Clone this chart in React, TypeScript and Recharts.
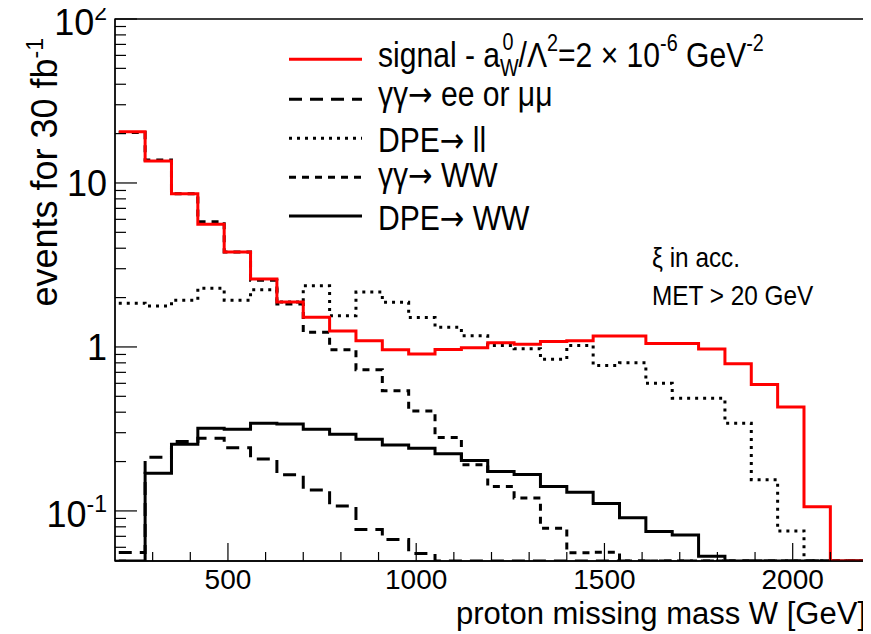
import React from "react";
import { LineChart, Line, XAxis, YAxis, ReferenceArea } from "recharts";

// lower edges of the 70 GeV bins
const binLow = [210, 280, 350, 420, 490, 560, 630, 700, 770, 840, 910, 980, 1050, 1120, 1190, 1260, 1330, 1400, 1470, 1540, 1610, 1680, 1750, 1820, 1890, 1960, 2030, 2100, 2170];
const X_MIN = 200;
const X_END = 2200;
const Y_MIN = 0.0495;
const Y_MAX = 100;

const signal = [20.5, 13.6, 8.6, 5.6, 3.8, 2.6, 1.88, 1.52, 1.25, 1.09, 0.96, 0.905, 0.965, 0.99, 1.06, 1.04, 1.08, 1.09, 1.165, 1.165, 1.05, 1.05, 0.97, 0.79, 0.59, 0.43, 0.106, 0, 0];
const ggLL = [0.0557, 0.2125, 0.265, 0.277, 0.243, 0.207, 0.166, 0.134, 0.107, 0.077, 0.067, 0.055, 0, 0, 0, 0, 0, 0, 0, 0, 0, 0, 0, 0, 0, 0, 0, 0, 0];
const dpeLL = [1.85, 1.78, 1.93, 2.28, 1.93, 2.23, 1.88, 2.36, 1.55, 2.16, 1.87, 1.51, 1.32, 1.17, 1.02, 0.975, 0.84, 1.02, 0.77, 0.8, 0.6, 0.487, 0.487, 0.343, 0.155, 0.0755, 0, 0, 0];
const ggWW = [20.3, 13.8, 8.6, 5.8, 3.8, 2.55, 1.83, 1.23, 0.96, 0.725, 0.54, 0.407, 0.28, 0.191, 0.141, 0.12, 0.0784, 0.0555, 0.056, 0, 0, 0, 0, 0, 0, 0, 0, 0, 0];
const dpeWW = [0, 0.17, 0.255, 0.319, 0.315, 0.343, 0.339, 0.315, 0.293, 0.274, 0.2526, 0.241, 0.223, 0.203, 0.174, 0.167, 0.141, 0.13, 0.111, 0.091, 0.0748, 0.0714, 0.053, 0, 0, 0, 0, 0, 0];

const xTicks = [300, 400, 500, 600, 700, 800, 900, 1000, 1100, 1200, 1300, 1400, 1500, 1600, 1700, 1800, 1900, 2000, 2100];
const xMajor = [500, 1000, 1500, 2000];
const yTicks = [0.05, 0.06, 0.07, 0.08, 0.09, 0.1, 0.2, 0.3, 0.4, 0.5, 0.6, 0.7, 0.8, 0.9, 1, 2, 3, 4, 5, 6, 7, 8, 9, 10, 20, 30, 40, 50, 60, 70, 80, 90, 100];
const yMajor = [0.1, 1, 10, 100];
const yMajorBase = ["10", "1", "10", "10"];
const yMajorExp = ["-1", "", "", "2"];

const FONT = "'Liberation Sans', Arial, Helvetica, sans-serif";
const ARROW_FONT = "'DejaVu Sans', sans-serif";

const floorV = (v: number) => (v > Y_MIN ? v : Y_MIN);
const rows: any[] = binLow.map((x, i) => ({
  x,
  signal: floorV(signal[i]),
  ggLL: floorV(ggLL[i]),
  dpeLL: floorV(dpeLL[i]),
  ggWW: floorV(ggWW[i]),
  dpeWW: floorV(dpeWW[i]),
}));
{
  const n = binLow.length - 1;
  rows.push({
    x: X_END,
    signal: floorV(signal[n]),
    ggLL: floorV(ggLL[n]),
    dpeLL: floorV(dpeLL[n]),
    ggWW: floorV(ggWW[n]),
    dpeWW: floorV(dpeWW[n]),
  });
}

const XTick = (p: any) => {
  const { x, y, payload } = p;
  const v = payload.value;
  const major = xMajor.indexOf(v) >= 0;
  return (
    <g>
      <line x1={x} x2={x} y1={y} y2={y - (major ? 18 : 9)} stroke="#000" strokeWidth={1.2} />
      {major && (
        <text x={x} y={y + 28} textAnchor="middle" fontSize={28} fontFamily={FONT} fill="#000">
          {String(v)}
        </text>
      )}
    </g>
  );
};

const YTick = (p: any) => {
  const { x, y, payload } = p;
  const v = payload.value;
  const idx = yMajor.indexOf(v);
  const major = idx >= 0;
  const exp = major ? yMajorExp[idx] : "";
  return (
    <g>
      <line x1={x} x2={x + (major ? 22 : 11)} y1={y} y2={y} stroke="#000" strokeWidth={1.2} />
      {major && (
        <text x={x - 8} y={y + 13 + (exp ? 3 : 0)} textAnchor="end" fontSize={36} fontFamily={FONT} fill="#000">
          {yMajorBase[idx]}
          {exp && (
            <tspan dy={-15} fontSize={23}>
              {exp}
            </tspan>
          )}
        </text>
      )}
    </g>
  );
};

const T = ({ x, y, size, sx = 0.86, anchor = "start", children }: any) => (
  <text
    transform={`translate(${x},${y}) scale(${sx},1)`}
    fontSize={size}
    fontFamily={FONT}
    textAnchor={anchor}
    fill="#000"
  >
    {children}
  </text>
);

const Arrow = () => (
  <tspan fontFamily={ARROW_FONT} fontSize={34}>
    →
  </tspan>
);

const LX1 = 281;
const LX2 = 354;
const LTX = 370;

export default function App() {
  return (
    <div style={{ position: "relative", width: 863, height: 626 }}>
      <style>{`.recharts-surface{overflow:visible}`}</style>
      <LineChart width={863} height={626} data={rows} margin={{ top: 11, right: 3, bottom: 0, left: 0 }}>
        <XAxis
          dataKey="x"
          type="number"
          domain={[X_MIN, X_END]}
          allowDataOverflow
          ticks={xTicks}
          interval={0}
          tickSize={0}
          tickMargin={0}
          tickLine={false}
          tick={(p: any) => <XTick {...p} />}
          height={73}
          axisLine={{ stroke: "#000", strokeWidth: 1.3 }}
        />
        <YAxis
          type="number"
          scale="log"
          domain={[Y_MIN, Y_MAX]}
          allowDataOverflow
          ticks={yTicks}
          interval={0}
          tickSize={0}
          tickMargin={0}
          tickLine={false}
          tick={(p: any) => <YTick {...p} />}
          width={107}
          axisLine={{ stroke: "#000", strokeWidth: 1.3 }}
        />
        <ReferenceArea x1={X_MIN} x2={X_END} y1={Y_MIN} y2={Y_MAX} fill="none" fillOpacity={0} stroke="#000" strokeWidth={1.3} />
        <Line type="stepAfter" dataKey="ggLL" stroke="#000" strokeWidth={3} strokeDasharray="13 8" dot={false} activeDot={false} isAnimationActive={false} />
        <Line type="stepAfter" dataKey="dpeLL" stroke="#000" strokeWidth={3} strokeDasharray="3 5" dot={false} activeDot={false} isAnimationActive={false} />
        <Line type="stepAfter" dataKey="ggWW" stroke="#000" strokeWidth={3} strokeDasharray="7 6" dot={false} activeDot={false} isAnimationActive={false} />
        <Line type="stepAfter" dataKey="dpeWW" stroke="#000" strokeWidth={3} dot={false} activeDot={false} isAnimationActive={false} />
        <Line type="stepAfter" dataKey="signal" stroke="#ff0000" strokeWidth={3} dot={false} activeDot={false} isAnimationActive={false} />
      </LineChart>
      <svg style={{ position: "absolute", left: 0, top: 0, pointerEvents: "none", overflow: "visible" }} width={863} height={626}>
        {/* legend */}
        <line x1={LX1} x2={LX2} y1={51.3} y2={51.3} stroke="#ff0000" strokeWidth={3} />
        <line x1={LX1} x2={LX2} y1={91.3} y2={91.3} stroke="#000" strokeWidth={3} strokeDasharray="13 8" />
        <line x1={LX1} x2={LX2} y1={130.3} y2={130.3} stroke="#000" strokeWidth={3} strokeDasharray="3 5" />
        <line x1={LX1} x2={LX2} y1={169.3} y2={169.3} stroke="#000" strokeWidth={3} strokeDasharray="7 6" />
        <line x1={LX1} x2={LX2} y1={208} y2={208} stroke="#000" strokeWidth={3} />
        <T x={LTX} y={58.5} size={35}>
          signal - a
          <tspan dy={9} fontSize={23}>W</tspan>
          <tspan dx={-19} dy={-26} fontSize={23}>0</tspan>
          <tspan dx={6} dy={17}>/Λ</tspan>
          <tspan dy={-16} fontSize={23}>2</tspan>
          <tspan dy={16}>=2 × 10</tspan>
          <tspan dy={-16} fontSize={23}>-6</tspan>
          <tspan dy={16}> GeV</tspan>
          <tspan dy={-16} fontSize={23}>-2</tspan>
        </T>
        <T x={LTX} y={97.5} size={35}>
          γγ<Arrow /> ee or μμ
        </T>
        <T x={LTX} y={143.7} size={35}>
          DPE<Arrow /> ll
        </T>
        <T x={LTX} y={179} size={35}>
          γγ<Arrow /> WW
        </T>
        <T x={LTX} y={221.5} size={35}>
          DPE<Arrow /> WW
        </T>
        {/* annotations */}
        <T x={644} y={258.7} size={28} sx={0.87}>ξ in acc.</T>
        <T x={644} y={297} size={28} sx={0.87}>MET &gt; 20 GeV</T>
        {/* axis titles */}
        <T x={858} y={616} size={31} sx={1} anchor="end">proton missing mass W [GeV]</T>
        <text transform="translate(49,30) rotate(-90)" textAnchor="end" fontSize={36} fontFamily={FONT} fill="#000">
          events for 30 fb
          <tspan dy={-14} fontSize={23}>-1</tspan>
        </text>
      </svg>
    </div>
  );
}
